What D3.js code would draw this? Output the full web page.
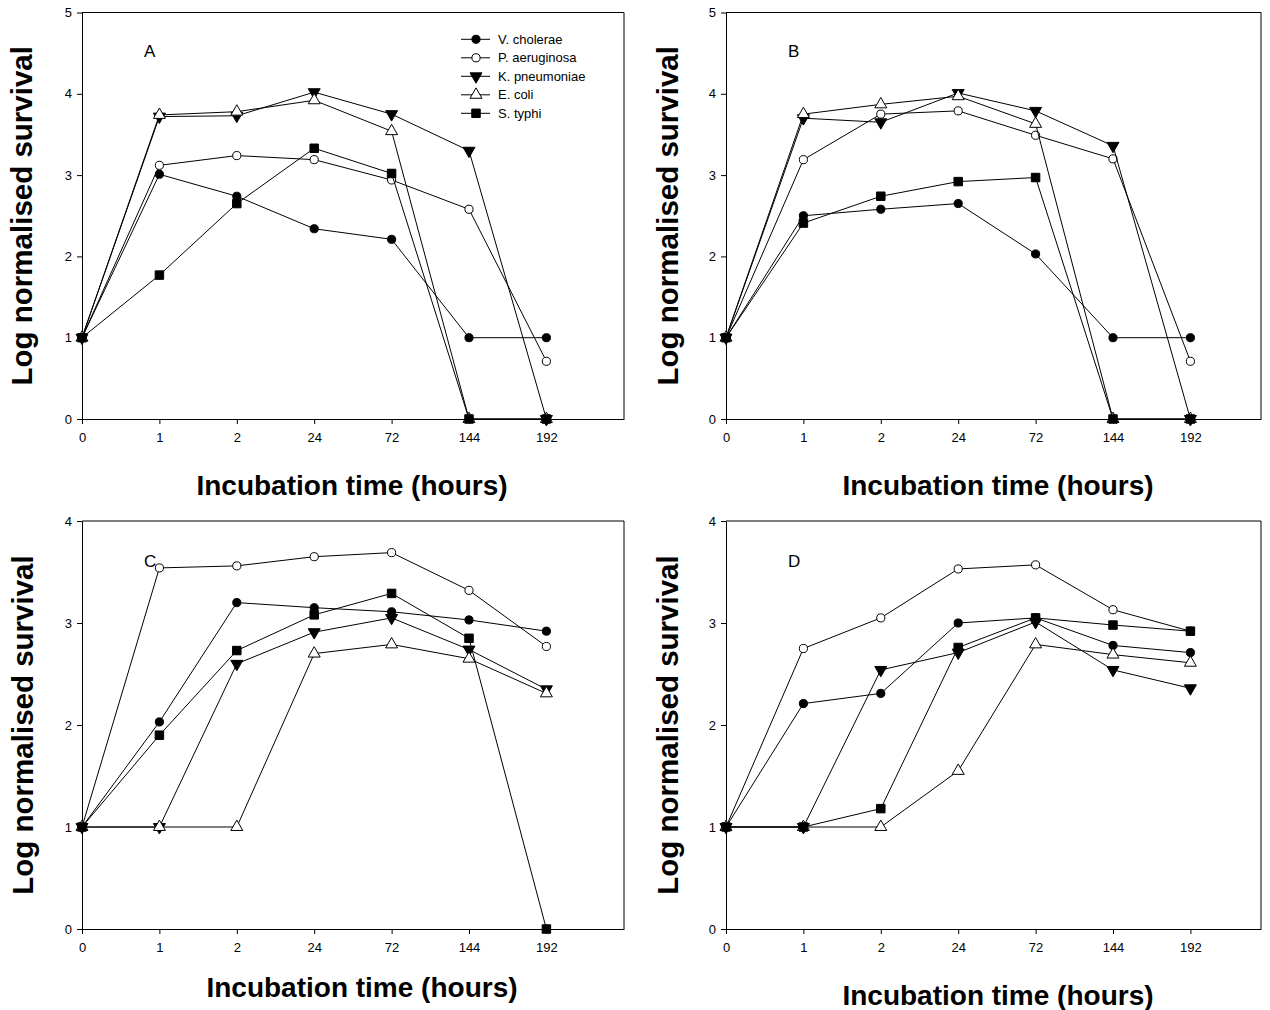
<!DOCTYPE html>
<html>
<head>
<meta charset="utf-8">
<script src="https://cdn.jsdelivr.net/npm/d3@7"></script>
<style>
  body { margin: 0; background: #fff; }
  svg { display: block; font-family: Arial, "Liberation Sans", sans-serif; }
  .tick text { font-size: 13px; fill: #000; }
  .tick line, .domain { stroke: #000; }
</style>
</head>
<body>
<div id="chart"></div>
<script>
// time points (shown as evenly spaced categories)
const timeLabels = ["0", "1", "2", "24", "72", "144", "192"];
const seriesNames = ["V. cholerae", "P. aeruginosa", "K. pneumoniae", "E. coli", "S. typhi"];

// panel A
const A_vc = [1, 3.01, 2.74, 2.34, 2.21, 1.0, 1.0];
const A_pa = [1, 3.12, 3.24, 3.19, 2.94, 2.58, 0.71];
const A_kp = [1, 3.72, 3.73, 4.02, 3.75, 3.30, 0];
const A_ec = [1, 3.74, 3.78, 3.92, 3.54, 0, 0];
const A_st = [1, 1.77, 2.65, 3.33, 3.02, 0, 0];

// panel B
const B_vc = [1, 2.50, 2.58, 2.65, 2.03, 1.0, 1.0];
const B_pa = [1, 3.19, 3.75, 3.79, 3.49, 3.20, 0.71];
const B_kp = [1, 3.70, 3.65, 4.01, 3.79, 3.36, 0];
const B_ec = [1, 3.75, 3.87, 3.97, 3.63, 0, 0];
const B_st = [1, 2.41, 2.74, 2.92, 2.97, 0, 0];

// panel C
const C_vc = [1, 2.03, 3.20, 3.15, 3.11, 3.03, 2.92];
const C_pa = [1, 3.54, 3.56, 3.65, 3.69, 3.32, 2.77];
const C_kp = [1, 1.0, 2.60, 2.91, 3.05, 2.74, 2.35];
const C_ec = [1, 1.0, 1.0, 2.70, 2.79, 2.65, 2.31];
const C_st = [1, 1.90, 2.73, 3.08, 3.29, 2.85, 0];

// panel D
const D_vc = [1, 2.21, 2.31, 3.00, 3.05, 2.78, 2.71];
const D_pa = [1, 2.75, 3.05, 3.53, 3.57, 3.13, 2.92];
const D_kp = [1, 1.0, 2.54, 2.71, 3.01, 2.54, 2.36];
const D_ec = [1, 1.0, 1.0, 1.55, 2.79, 2.69, 2.61];
const D_st = [1, 1.0, 1.18, 2.76, 3.05, 2.98, 2.92];

const W = 1270, H = 1010;
const step = 77.4;   // px between time points

// marker style for each series
const markers = [
  {type: d3.symbolCircle, size: 52, fill: "#000", rot: 0},
  {type: d3.symbolCircle, size: 52, fill: "#fff", rot: 0},
  {type: d3.symbolTriangle, size: 62, fill: "#000", rot: 180},
  {type: d3.symbolTriangle, size: 62, fill: "#fff", rot: 0},
  {type: d3.symbolSquare, size: 72, fill: "#000", rot: 0}
];

const panels = [
  {letter: "A", series: [A_vc, A_pa, A_kp, A_ec, A_st], yMax: 5,
   left: 82, right: 624, top: 12.5, bottom: 419,
   yTitleX: 32, xTitleX: 352, xTitleY: 495, legend: true},
  {letter: "B", series: [B_vc, B_pa, B_kp, B_ec, B_st], yMax: 5,
   left: 726, right: 1261, top: 12.5, bottom: 419,
   yTitleX: 678, xTitleX: 998, xTitleY: 495, legend: false},
  {letter: "C", series: [C_vc, C_pa, C_kp, C_ec, C_st], yMax: 4,
   left: 82, right: 624, top: 521, bottom: 929,
   yTitleX: 33, xTitleX: 362, xTitleY: 997, legend: false},
  {letter: "D", series: [D_vc, D_pa, D_kp, D_ec, D_st], yMax: 4,
   left: 726, right: 1261, top: 521, bottom: 929,
   yTitleX: 678, xTitleX: 998, xTitleY: 1005, legend: false}
];

const svg = d3.select("#chart")
  .append("svg")
  .attr("width", W)
  .attr("height", H);

const symbolPath = (m) => d3.symbol().type(m.type).size(m.size)();

panels.forEach(p => {
  const g = svg.append("g");

  const x = d3.scaleLinear()
    .domain([0, (p.right - p.left) / step])
    .range([p.left, p.right]);
  const y = d3.scaleLinear()
    .domain([0, p.yMax])
    .range([p.bottom, p.top]);

  // frame (top and right sides)
  g.append("path")
    .attr("d", `M${p.left},${p.top}H${p.right}V${p.bottom}`)
    .attr("fill", "none")
    .attr("stroke", "#000");

  g.append("g")
    .attr("transform", `translate(0,${p.bottom})`)
    .call(d3.axisBottom(x)
      .tickValues(d3.range(timeLabels.length))
      .tickFormat(i => timeLabels[i])
      .tickSize(5).tickSizeOuter(0).tickPadding(9));

  g.append("g")
    .attr("transform", `translate(${p.left},0)`)
    .call(d3.axisLeft(y)
      .ticks(p.yMax)
      .tickFormat(d3.format("d"))
      .tickSize(5).tickSizeOuter(0).tickPadding(5));

  g.selectAll(".domain").attr("stroke-width", 1);

  // series: line then markers, later series drawn on top
  const line = d3.line()
    .x((d, i) => x(i))
    .y(d => y(d));

  p.series.forEach((vals, s) => {
    g.append("path")
      .datum(vals)
      .attr("d", line)
      .attr("fill", "none")
      .attr("stroke", "#000")
      .attr("stroke-width", 1);

    g.selectAll(null)
      .data(vals)
      .enter()
      .append("path")
      .attr("d", symbolPath(markers[s]))
      .attr("transform", (d, i) => `translate(${x(i)},${y(d)}) rotate(${markers[s].rot})`)
      .attr("fill", markers[s].fill)
      .attr("stroke", "#000")
      .attr("stroke-width", 1);
  });

  // panel letter
  g.append("text")
    .attr("x", p.left + 62)
    .attr("y", p.top + (p.yMax === 5 ? 44.5 : 46))
    .attr("font-size", 17)
    .text(p.letter);

  // axis titles
  g.append("text")
    .attr("transform", `translate(${p.yTitleX},${(p.top + p.bottom) / 2}) rotate(-90)`)
    .attr("text-anchor", "middle")
    .attr("font-size", 29.5)
    .attr("font-weight", "bold")
    .text("Log normalised survival");

  g.append("text")
    .attr("x", p.xTitleX)
    .attr("y", p.xTitleY)
    .attr("text-anchor", "middle")
    .attr("font-size", 28)
    .attr("font-weight", "bold")
    .text("Incubation time (hours)");

  // legend (panel A only)
  if (p.legend) {
    const lg = g.append("g").attr("transform", "translate(461,39.3)");
    seriesNames.forEach((name, s) => {
      const row = lg.append("g").attr("transform", `translate(0,${s * 18.5})`);
      row.append("line")
        .attr("x1", 0).attr("x2", 29)
        .attr("stroke", "#000");
      row.append("path")
        .attr("d", symbolPath(markers[s]))
        .attr("transform", `translate(15,0) rotate(${markers[s].rot})`)
        .attr("fill", markers[s].fill)
        .attr("stroke", "#000");
      row.append("text")
        .attr("x", 37)
        .attr("dy", "0.35em")
        .attr("font-size", 13)
        .text(name);
    });
  }
});
</script>
</body>
</html>
